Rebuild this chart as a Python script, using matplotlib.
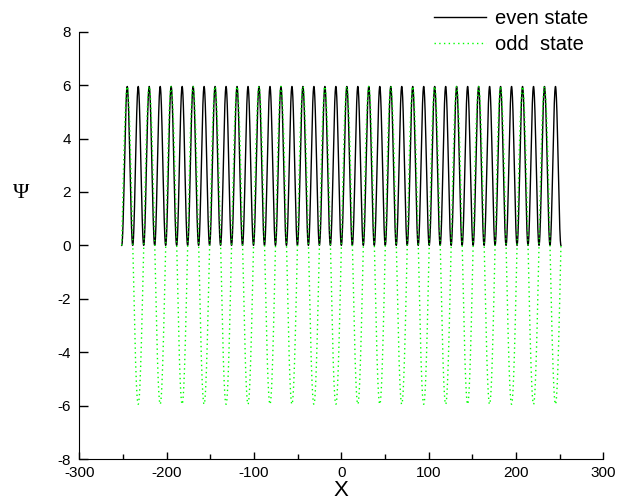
import numpy as np
import matplotlib.pyplot as plt

# well edges and lobe count of the wave functions
x_left = -251.5
x_right = 251.5
n_lobes = 40
amplitude = 5.95

x_ticks = [-300, -200, -100, 0, 100, 200, 300]
y_ticks = [-8, -6, -4, -2, 0, 2, 4, 6, 8]

x = np.linspace(x_left, x_right, 8000)
phase = np.pi * n_lobes * (x - x_left) / (x_right - x_left)
psi_even = amplitude * np.sin(phase) ** 2
psi_odd = amplitude * np.sin(phase)

plt.rcParams['font.family'] = ['Liberation Sans', 'DejaVu Sans']
plt.rcParams['axes.unicode_minus'] = False

fig = plt.figure(figsize=(6.32, 5.01), dpi=100)
ax = fig.add_axes([0.1256, 0.0838, 0.829, 0.8529])

ax.plot(x, psi_even, color='black', lw=1.0, label='even state')
ax.plot(x, psi_odd, color='#00ff00', lw=1.0, linestyle=(0, (1, 2.4)),
        label='odd  state')

ax.set_xlim(-300, 300)
ax.set_ylim(-8, 8)
ax.set_xticks(x_ticks)
ax.set_xticks([-250, -150, -50, 50, 150, 250], minor=True)
ax.set_yticks(y_ticks)
ax.tick_params(axis='x', which='major', direction='in', length=5, width=1,
               labelsize=11, pad=5)
ax.tick_params(axis='x', which='minor', direction='in', length=3.3, width=1)
ax.tick_params(axis='y', direction='in', length=6.5, width=1,
               labelsize=11, pad=6)
ax.spines['top'].set_visible(False)
ax.spines['right'].set_visible(False)

ax.set_xlabel('X', fontsize=16, labelpad=0)
ax.set_ylabel('Ψ', fontsize=16, rotation=0, family=['Liberation Serif'])
ax.yaxis.set_label_coords(-0.112, 0.6)

leg = ax.legend(loc='upper right', frameon=False, fontsize=14.5,
                bbox_to_anchor=(1.006, 1.095), handlelength=2.6,
                handletextpad=0.45, labelspacing=0.33)

fig.savefig('out.png', dpi=100)
